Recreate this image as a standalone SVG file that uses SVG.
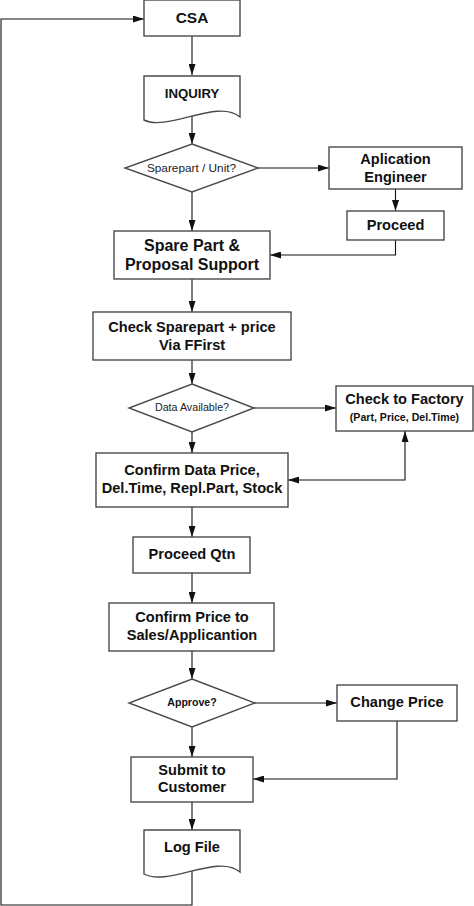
<svg xmlns="http://www.w3.org/2000/svg" width="474" height="906" viewBox="0 0 474 906">
<defs>
<marker id="ah" viewBox="0 0 11 7" refX="11" refY="3.5" markerWidth="11" markerHeight="7" markerUnits="userSpaceOnUse" orient="auto-start-reverse">
<path d="M0,0 L11,3.5 L0,7 Z" fill="#111"/>
</marker>
<style>
.box{fill:#fff;stroke:#4a4a4a;stroke-width:1.4}
.t{font-family:"Liberation Sans",Arial,sans-serif;font-weight:bold;font-size:14.6px;fill:#111;text-anchor:middle}
.r{font-family:"Liberation Sans",Arial,sans-serif;font-weight:normal;fill:#222;text-anchor:middle}
.c{fill:none;stroke:#111;stroke-width:1.1}
</style>
</defs>
<rect width="474" height="906" fill="#fff"/>
<g id="connectors">
<path class="c" d="M192,36 V75" marker-end="url(#ah)"/>
<path class="c" d="M192,116 V144" marker-end="url(#ah)"/>
<path class="c" d="M258,168 H329" marker-end="url(#ah)"/>
<path class="c" d="M395.5,189 V211" marker-end="url(#ah)"/>
<path class="c" d="M192,192 V231" marker-end="url(#ah)"/>
<path class="c" d="M395.5,240 V255 H270" marker-end="url(#ah)"/>
<path class="c" d="M192,279 V312" marker-end="url(#ah)"/>
<path class="c" d="M192,360 V384" marker-end="url(#ah)"/>
<path class="c" d="M254,408 H336" marker-end="url(#ah)"/>
<path class="c" d="M192,432 V453" marker-end="url(#ah)"/>
<path class="c" d="M405,431 V480 H288" marker-start="url(#ah)" marker-end="url(#ah)"/>
<path class="c" d="M192,507 V537" marker-end="url(#ah)"/>
<path class="c" d="M192,573 V603" marker-end="url(#ah)"/>
<path class="c" d="M192,651 V679" marker-end="url(#ah)"/>
<path class="c" d="M255,703 H337" marker-end="url(#ah)"/>
<path class="c" d="M192,727 V757" marker-end="url(#ah)"/>
<path class="c" d="M397,721 V779 H253" marker-end="url(#ah)"/>
<path class="c" d="M192,802 V830" marker-end="url(#ah)"/>
<path class="c" d="M192,871 V905 H1 V19 H144" marker-end="url(#ah)"/>
</g>
<g id="csa">
<rect class="box" x="144" y="0" width="96" height="36"/>
<text class="t" x="192" y="23" style="font-size:15.5px">CSA</text>
</g>
<g id="inquiry">
<path class="box" d="M144,76 H240 V117 C218,98 168,132 144,120 Z"/>
<text class="t" x="192" y="97.5" style="font-size:13.2px">INQUIRY</text>
</g>
<g id="sparepart-unit">
<polygon class="box" points="192,144 258,168 192,192 125,168"/>
<text class="r" x="191.5" y="171.5" style="font-size:11.8px">Sparepart / Unit?</text>
</g>
<g id="aplication-engineer">
<rect class="box" x="329" y="147" width="133" height="42"/>
<text class="t" x="395.5" y="164">Aplication</text>
<text class="t" x="395.5" y="181.5">Engineer</text>
</g>
<g id="proceed">
<rect class="box" x="347" y="211" width="97" height="29"/>
<text class="t" x="395.5" y="230">Proceed</text>
</g>
<g id="spare-part-proposal">
<rect class="box" x="114" y="231" width="156" height="48"/>
<text class="t" x="192" y="250.8" style="font-size:16px">Spare Part &amp;</text>
<text class="t" x="192" y="269.8" style="font-size:16px">Proposal Support</text>
</g>
<g id="check-sparepart">
<rect class="box" x="93" y="312" width="198" height="48"/>
<text class="t" x="192" y="332.3">Check Sparepart + price</text>
<text class="t" x="192" y="349.5">Via FFirst</text>
</g>
<g id="data-available">
<polygon class="box" points="192,384 254,408 192,432 129,408"/>
<text class="r" x="192" y="411.2" style="font-size:10.7px">Data Available?</text>
</g>
<g id="check-factory">
<rect class="box" x="336" y="386" width="137" height="45"/>
<text class="t" x="404.5" y="404.3">Check to Factory</text>
<text class="t" x="404.5" y="421" style="font-size:10.6px">(Part, Price, Del.Time)</text>
</g>
<g id="confirm-data">
<rect class="box" x="96" y="453" width="192" height="54"/>
<text class="t" x="192" y="475.3">Confirm Data Price,</text>
<text class="t" x="192" y="493">Del.Time, Repl.Part, Stock</text>
</g>
<g id="proceed-qtn">
<rect class="box" x="133" y="537" width="117" height="36"/>
<text class="t" x="192" y="559.3">Proceed Qtn</text>
</g>
<g id="confirm-price">
<rect class="box" x="109" y="603" width="165" height="48"/>
<text class="t" x="192" y="622.3">Confirm Price to</text>
<text class="t" x="192" y="640.3">Sales/Applicantion</text>
</g>
<g id="approve">
<polygon class="box" points="192,679 255,703 192,727 129,703"/>
<text class="t" x="192" y="706" style="font-size:10.6px">Approve?</text>
</g>
<g id="change-price">
<rect class="box" x="337" y="685" width="120" height="36"/>
<text class="t" x="397" y="707.3">Change Price</text>
</g>
<g id="submit-customer">
<rect class="box" x="131" y="757" width="122" height="45"/>
<text class="t" x="192" y="775.3">Submit to</text>
<text class="t" x="192" y="792.3">Customer</text>
</g>
<g id="log-file">
<path class="box" d="M144,830 H240 V872 C218,853 168,887 144,874 Z"/>
<text class="t" x="192" y="852.3">Log File</text>
</g>
</svg>
